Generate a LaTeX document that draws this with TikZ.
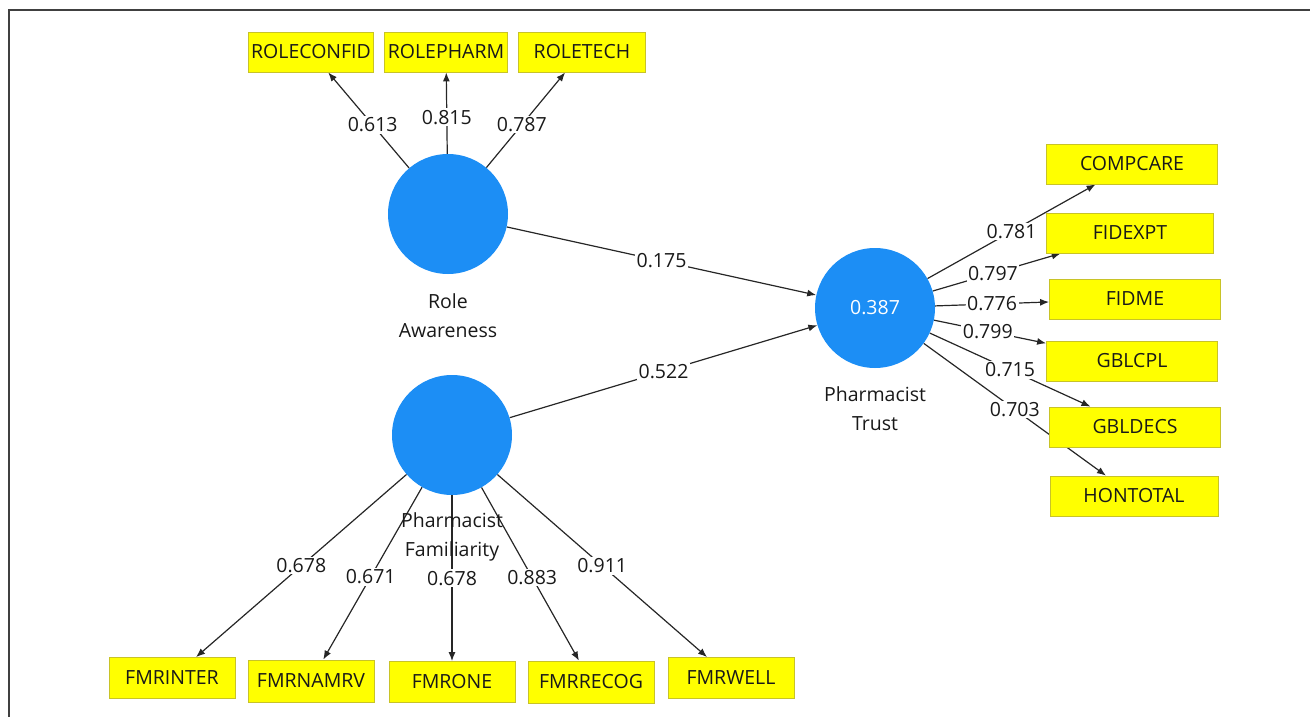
\documentclass[tikz,border=0pt]{standalone}
\usepackage{fontspec}
\setmainfont{Open Sans}
\usetikzlibrary{arrows.meta,backgrounds}
\definecolor{latentblue}{RGB}{28,142,245}
\definecolor{indyellow}{RGB}{255,255,0}
\definecolor{indedge}{RGB}{200,195,40}

\begin{document}
\begin{tikzpicture}[x=1pt, y=-1pt,
  every node/.style={font=\fontsize{19.5}{29}\selectfont, text=black!90},
  latent/.style={circle, fill=latentblue, minimum size=120pt, inner sep=0pt, text=white},
  indicator/.style={rectangle, draw=indedge, line width=0.8pt, fill=indyellow, minimum width=126pt, minimum height=40pt, inner sep=0pt},
  link/.style={draw=black!85, line width=1.2pt, -{Latex[length=9pt,width=7pt]}},
  coef/.style={fill=white, inner sep=1.5pt},
  caption/.style={align=center}]
  \useasboundingbox (0,0) rectangle (1310,717);
  \draw[black!75, line width=2pt] (9,717) -- (9,10) -- (1310,10);
  % latent variables
  \node[latent] (RA) at (448,214) {};
  \node[latent] (PF) at (452,435) {};
  \node[latent] (PT) at (875,308) {0.387};
  \node[caption] (RAtxt) at (448,316) {Role\\Awareness};
  \node[caption] (PFtxt) at (452,537) {Pharmacist\\Familiarity};
  \node[caption] (PTtxt) at (875,409) {Pharmacist\\Trust};
  % indicators
  \node[indicator, minimum width=125pt] (ROLECONFID) at (311,52) {ROLECONFID};
  \node[indicator, minimum width=123pt] (ROLEPHARM) at (446,52) {ROLEPHARM};
  \node[indicator, minimum width=127pt] (ROLETECH) at (582,52) {ROLETECH};
  \node[indicator, minimum width=171pt] (COMPCARE) at (1132,164) {COMPCARE};
  \node[indicator, minimum width=167pt] (FIDEXPT) at (1130,233) {FIDEXPT};
  \node[indicator, minimum width=171pt] (FIDME) at (1135,299) {FIDME};
  \node[indicator, minimum width=171pt] (GBLCPL) at (1132,361) {GBLCPL};
  \node[indicator, minimum width=171pt] (GBLDECS) at (1135,427) {GBLDECS};
  \node[indicator, minimum width=168pt] (HONTOTAL) at (1134,496) {HONTOTAL};
  \node[indicator, minimum height=41pt] (FMRINTER) at (172,678) {FMRINTER};
  \node[indicator, minimum height=42pt] (FMRNAMRV) at (311,681) {FMRNAMRV};
  \node[indicator, minimum height=41pt] (FMRONE) at (452,682) {FMRONE};
  \node[indicator, minimum height=42pt] (FMRRECOG) at (591,682) {FMRRECOG};
  \node[indicator, minimum height=41pt] (FMRWELL) at (731,678) {FMRWELL};
  % loadings and paths
  \begin{scope}[on background layer]
  \draw[link] (RA) -- node[coef, pos=0.45] {0.613} (ROLECONFID);
  \draw[link] (RA) -- node[coef, pos=0.45] {0.815} (ROLEPHARM);
  \draw[link] (RA) -- node[coef, pos=0.45] {0.787} (ROLETECH);
  \draw[link] (RA) -- node[coef, midway] {0.175} (PT);
  \draw[link] (PF) -- node[coef, midway] {0.522} (PT);
  \draw[link] (PT) -- node[coef, midway] {0.781} (COMPCARE);
  \draw[link] (PT) -- node[coef, pos=0.47] {0.797} (FIDEXPT);
  \draw[link] (PT) -- node[coef, midway] {0.776} (FIDME);
  \draw[link] (PT) -- node[coef, pos=0.48] {0.799} (GBLCPL);
  \draw[link] (PT) -- node[coef, midway] {0.715} (GBLDECS);
  \draw[link] (PT) -- node[coef, midway] {0.703} (HONTOTAL);
  \draw[link] (PF) -- node[coef, midway] {0.678} (FMRINTER);
  \draw[link] (PF) -- node[coef, pos=0.52] {0.671} (FMRNAMRV);
  \draw[link] (PF) -- node[coef, midway] {0.678} (FMRONE);
  \draw[link] (PF) -- node[coef, pos=0.52] {0.883} (FMRRECOG);
  \draw[link] (PF) -- node[coef, midway] {0.911} (FMRWELL);
  \end{scope}
\end{tikzpicture}
\end{document}
